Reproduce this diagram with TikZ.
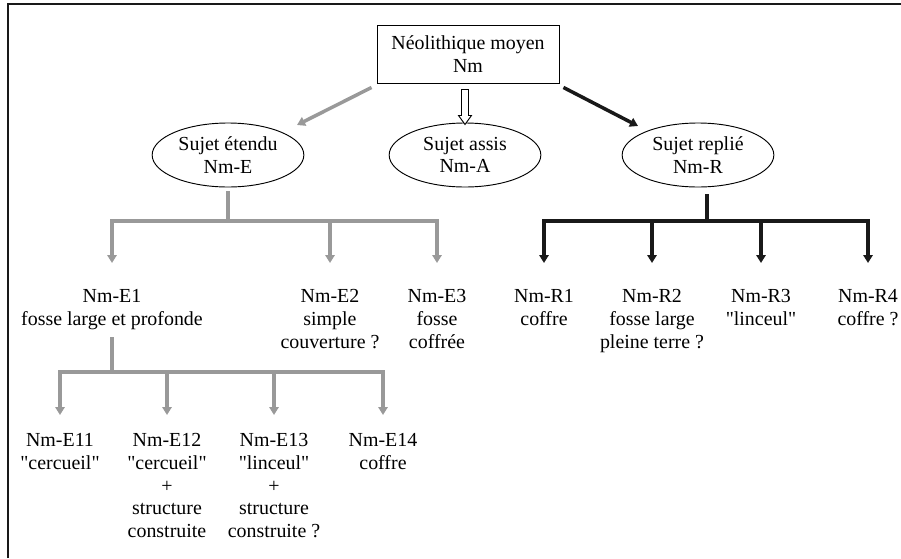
\documentclass[tikz,border=0pt]{standalone}
\usepackage{fontspec}
\setmainfont{Liberation Serif}[Ligatures=TeXOff]
\usepackage{tikz}
\usetikzlibrary{arrows.meta,shapes.geometric}
\definecolor{colorgrey}{rgb}{0.6, 0.6, 0.6}
\definecolor{colordark}{rgb}{0.1, 0.1, 0.1}
\newcommand{\txtsize}{\fontsize{17}{19.3}\selectfont}
\tikzstyle{every node}=[font=\txtsize]
\tikzstyle{period}=[rectangle, draw=black, line width=0.8pt, minimum width=5.46cm, minimum height=1.74cm, align=center, inner sep=0pt]
\tikzstyle{posture}=[ellipse, draw=black, line width=0.8pt, minimum width=4.55cm, minimum height=1.92cm, align=center, inner sep=0pt]
\tikzstyle{grave}=[align=center, inner sep=0pt, anchor=north]
\tikzstyle{greyline}=[draw=colorgrey, line width=3pt]
\tikzstyle{darkline}=[draw=colordark, line width=3pt]

\begin{document}
\begin{tikzpicture}[x=0.03cm, y=-0.03cm, >={Triangle[length=0.24cm, width=0.28cm]}]

	\useasboundingbox (0,0) rectangle (901,558);
	\draw[colordark, line width=1.7pt] (8,558) -- (8,4) -- (901,4);

	\node[period] at (468, 54) (nm) {Néolithique moyen\\Nm};

	\node[posture] at (228, 155) (ellE) {Sujet étendu\\Nm-E};
	\node[posture] at (465, 155) (ellA) {Sujet assis\\Nm-A};
	\node[posture] at (698, 155) (ellR) {Sujet replié\\Nm-R};

	\node[grave] at (112, 289.5) (e1) {Nm-E1\\fosse large et profonde};
	\node[grave] at (330, 289.5) (e2) {Nm-E2\\simple\\couverture ?};
	\node[grave] at (437, 289.5) (e3) {Nm-E3\\fosse\\coffrée};
	\node[grave] at (544, 289.5) (r1) {Nm-R1\\coffre};
	\node[grave] at (652, 289.5) (r2) {Nm-R2\\fosse large\\pleine terre ?};
	\node[grave] at (761, 289.5) (r3) {Nm-R3\\"linceul"};
	\node[grave] at (868, 289.5) (r4) {Nm-R4\\coffre ?};

	\node[grave] at (60, 433.5) (e11) {Nm-E11\\"cercueil"};
	\node[grave] at (167, 433.5) (e12) {Nm-E12\\"cercueil"\\+\\structure\\construite};
	\node[grave] at (274, 433.5) (e13) {Nm-E13\\"linceul"\\+\\structure\\construite ?};
	\node[grave] at (383, 433.5) (e14) {Nm-E14\\coffre};

	% bus lines and where the arrows stop
	\coordinate (busE) at (228, 221);
	\coordinate (busR) at (707, 221);
	\coordinate (busE1) at (112, 372);
	\coordinate (tipA) at (0, 263);
	\coordinate (tipB) at (0, 415);

	\draw[greyline, ->] ([shift={(-5,4)}]nm.south west) -- ([shift={(69,-30)}]ellE.center);
	\draw[darkline, ->] ([shift={(4,4)}]nm.south east) -- ([shift={(-60,-29)}]ellR.center);
	\draw[fill=white, line width=0.8pt] (ellA.north |- nm.south) ++(-3.5,6) -- ++(0,26) -- ++(-3,0) -- ++(6.5,9) -- ++(6.5,-9) -- ++(-3,0) -- ++(0,-26) -- cycle;

	\draw[greyline] (ellE.south) ++(0,4) -- (busE);
	\draw[greyline, line cap=rect] (e1 |- busE) -- (e3 |- busE);
	\foreach \n in {e1,e2,e3}
		\draw[greyline, ->] (\n |- busE) -- (\n |- tipA);

	\draw[darkline] (ellR.south -| busR) ++(0,7) -- (busR);
	\draw[darkline, line cap=rect] (r1 |- busR) -- (r4 |- busR);
	\foreach \n in {r1,r2,r3,r4}
		\draw[darkline, ->] (\n |- busR) -- (\n |- tipA);

	\draw[greyline] (e1.north |- busE1) ++(0,-35) -- (busE1);
	\draw[greyline, line cap=rect] (e11 |- busE1) -- (e14 |- busE1);
	\foreach \n in {e11,e12,e13,e14}
		\draw[greyline, ->] (\n |- busE1) -- (\n |- tipB);

\end{tikzpicture}
\end{document}
